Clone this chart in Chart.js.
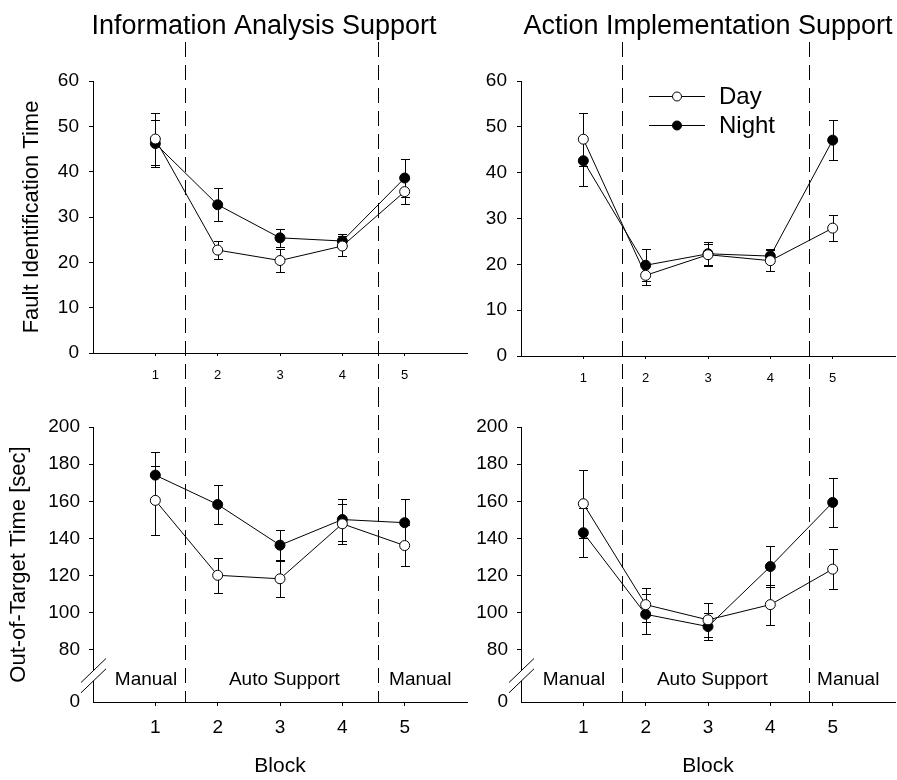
<!DOCTYPE html>
<html>
<head>
<meta charset="utf-8">
<script src="https://cdn.jsdelivr.net/npm/chart.js@4.4.1/dist/chart.umd.min.js"></script>
<style>
  body { margin: 0; width: 897px; height: 780px; overflow: hidden; background: #fff; position: relative; }
  canvas { position: absolute; }
</style>
</head>
<body>
<canvas id="infoFit" width="473" height="392" style="left:0px;top:0px"></canvas>
<canvas id="actFit" width="461" height="392" style="left:440px;top:0px"></canvas>
<canvas id="infoOot" width="473" height="388" style="left:0px;top:392px"></canvas>
<canvas id="actOot" width="461" height="388" style="left:440px;top:392px"></canvas>
<script>
// x axis = block number
const blocks = [1, 2, 3, 4, 5];
const fitTicks = [0, 10, 20, 30, 40, 50, 60];
const ootTicks = [80, 100, 120, 140, 160, 180, 200];
const ootBreakLabel = '0';   // label shown under the axis break
const seriesNames = ['Day', 'Night'];
const panelTitles = ['Information Analysis Support', 'Action Implementation Support'];
const phaseNames = ['Manual', 'Auto Support', 'Manual'];
const phaseMid = [0.85, 3.07, 5.25];
const infoSwitch = [1.48, 4.57];   // manual -> auto -> manual
const actSwitch = [1.62, 4.62];

// Fault identification time (mean, error)
const infoFitDay = [47.2, 22.7, 20.4, 23.6, 35.6];
const infoFitDayErr = [5.8, 2.0, 2.6, 2.2, 2.8];
const infoFitNight = [46.2, 32.7, 25.4, 24.7, 38.6];
const infoFitNightErr = [5.2, 3.6, 2.0, 1.5, 4.2];

const actFitDay = [47.3, 17.6, 22.1, 20.8, 27.9];
const actFitDayErr = [5.8, 2.0, 2.4, 2.3, 2.8];
const actFitNight = [42.6, 19.8, 22.3, 21.8, 47.1];
const actFitNightErr = [5.4, 3.5, 2.5, 1.6, 4.3];

// Out-of-target time [sec]
const infoOotDay = [160.5, 120.2, 118.3, 147.9, 136.2];
const infoOotDayErr = [18.6, 9.4, 9.6, 10.7, 10.8];
const infoOotNight = [174.1, 158.3, 136.4, 150.2, 148.5];
const infoOotNightErr = [12.3, 10.6, 7.9, 11.3, 12.6];

const actOotDay = [158.7, 104.4, 96.2, 104.4, 123.5];
const actOotDayErr = [18.3, 9.2, 9.0, 10.7, 10.9];
const actOotNight = [143.1, 99.2, 92.6, 124.9, 159.4];
const actOotNightErr = [13.3, 10.8, 7.5, 11.0, 13.3];

const family = "'Liberation Sans', Arial, sans-serif";

function series(label, vals, errs, fill) {
  return {
    label: label,
    data: blocks.map((b, i) => ({ x: b, y: vals[i] })),
    err: errs,
    borderColor: '#000', borderWidth: 1, tension: 0, fill: false,
    pointRadius: 5, pointBorderWidth: 1,
    pointBackgroundColor: fill, pointBorderColor: '#000'
  };
}

// dashed phase lines, error bars, texts, axis break
const deco = {
  id: 'deco',
  beforeDatasetsDraw(chart, args, o) {
    const ctx = chart.ctx, a = chart.chartArea, x = chart.scales.x, y = chart.scales.y;
    ctx.save();
    ctx.strokeStyle = '#000';
    ctx.lineWidth = 1;
    ctx.setLineDash([15, 8]);
    o.switches.forEach(v => {
      const px = Math.round(x.getPixelForValue(v)) + 0.5;
      ctx.beginPath();
      ctx.moveTo(px, o.top ? 42 : 0);
      ctx.lineTo(px, o.top ? chart.height : a.bottom);
      ctx.stroke();
    });
    ctx.setLineDash([]);
    chart.data.datasets.forEach(ds => {
      ds.data.forEach((p, i) => {
        const px = Math.round(x.getPixelForValue(p.x)) + 0.5;
        const hi = Math.round(y.getPixelForValue(p.y + ds.err[i])) + 0.5;
        const lo = Math.round(y.getPixelForValue(p.y - ds.err[i])) + 0.5;
        ctx.beginPath();
        ctx.moveTo(px, hi); ctx.lineTo(px, lo);
        ctx.moveTo(px - 4.5, hi); ctx.lineTo(px + 4.5, hi);
        ctx.moveTo(px - 4.5, lo); ctx.lineTo(px + 4.5, lo);
        ctx.stroke();
      });
    });
    ctx.restore();
  },
  afterDatasetsDraw(chart, args, o) {
    const ctx = chart.ctx, a = chart.chartArea, x = chart.scales.x;
    ctx.save();
    ctx.fillStyle = '#000';
    ctx.strokeStyle = '#000';
    ctx.lineWidth = 1;
    if (o.title) {
      ctx.font = '27px ' + family;
      ctx.textAlign = 'center';
      ctx.textBaseline = 'alphabetic';
      ctx.fillText(o.title, o.titleX, 34);
    }
    if (o.legend) {
      const ds = chart.data.datasets;
      [96, 125].forEach((ly, k) => {
        ctx.beginPath();
        ctx.moveTo(209, ly + 0.5); ctx.lineTo(265, ly + 0.5);
        ctx.stroke();
        ctx.beginPath();
        ctx.arc(237, ly + 0.5, 4.5, 0, Math.PI * 2);
        ctx.fillStyle = ds[k].pointBackgroundColor;
        ctx.fill();
        ctx.stroke();
        ctx.fillStyle = '#000';
        ctx.font = '24px ' + family;
        ctx.textAlign = 'left';
        ctx.textBaseline = 'middle';
        ctx.fillText(seriesNames[k], 279, ly + 1);
      });
    }
    if (o.phases) {
      ctx.font = '19px ' + family;
      ctx.textAlign = 'center';
      ctx.textBaseline = 'middle';
      phaseNames.forEach((t, i) => ctx.fillText(t, x.getPixelForValue(phaseMid[i]), a.bottom - 22));
    }
    if (o.broken) {
      const ax = a.left + 0.5;
      const c1 = a.bottom - 31.5, c2 = a.bottom - 21.2;
      ctx.fillStyle = '#fff';
      ctx.beginPath();
      ctx.moveTo(ax - 12.5, c1 + 12); ctx.lineTo(ax + 12.5, c1 - 12);
      ctx.lineTo(ax + 12.5, c2 - 12); ctx.lineTo(ax - 12.5, c2 + 12);
      ctx.closePath();
      ctx.fill();
      ctx.beginPath();
      ctx.moveTo(ax - 12.5, c1 + 12); ctx.lineTo(ax + 12.5, c1 - 12);
      ctx.moveTo(ax - 12.5, c2 + 12); ctx.lineTo(ax + 12.5, c2 - 12);
      ctx.stroke();
    }
    ctx.restore();
  }
};

function makeChart(id, day, dayErr, night, nightErr, cfg) {
  const top = cfg.top;
  const yScale = top ? {
    min: fitTicks[0], max: fitTicks[fitTicks.length - 1],
    afterBuildTicks: s => { s.ticks = fitTicks.map(v => ({ value: v })); },
    grid: { drawOnChartArea: false, tickLength: 4, color: '#000' }
  } : {
    min: 52, max: ootTicks[ootTicks.length - 1],
    afterBuildTicks: s => { s.ticks = [{ value: s.min }].concat(ootTicks.map(v => ({ value: v }))); },
    grid: {
      drawOnChartArea: false, tickLength: 4,
      color: c => (c.tick && c.tick.value < ootTicks[0]) ? 'rgba(0,0,0,0)' : '#000'
    }
  };
  Object.assign(yScale, {
    afterFit: s => { s.width = cfg.yw; },
    border: { color: '#000', width: 1 },
    ticks: {
      color: '#000', padding: top ? 10 : 9, font: { family: family, size: 19 },
      callback: v => (!top && v < ootTicks[0]) ? ootBreakLabel : v
    },
    title: {
      display: !!cfg.yTitle, text: cfg.yTitle || '', color: '#000',
      font: { family: family, size: 22 }, padding: { top: cfg.yTitlePad || 0, bottom: 0 }
    }
  });

  return new Chart(document.getElementById(id), {
    type: 'line',
    data: {
      datasets: [
        series(seriesNames[0], day, dayErr, '#fff'),
        series(seriesNames[1], night, nightErr, '#000')
      ]
    },
    options: {
      responsive: false,
      animation: false,
      layout: { padding: { top: cfg.padTop, right: 0, bottom: 0, left: 0 } },
      plugins: {
        legend: { display: false },
        tooltip: { enabled: false },
        deco: cfg.deco
      },
      scales: {
        x: {
          type: 'linear', min: 0, max: 6,
          afterBuildTicks: s => { s.ticks = blocks.map(v => ({ value: v })); },
          afterFit: s => { s.height = cfg.xh; },
          grid: { drawOnChartArea: false, tickLength: top ? 3 : 4, color: '#000' },
          border: { color: '#000', width: 1 },
          ticks: {
            color: '#000', maxRotation: 0, autoSkip: false,
            padding: top ? 12 : 10, font: { family: family, size: top ? 13 : 19 }
          },
          title: {
            display: !top, text: 'Block', color: '#000',
            font: { family: family, size: 21 }, padding: { top: 0, bottom: 1 }
          }
        },
        y: yScale
      }
    },
    plugins: [deco]
  });
}

makeChart('infoFit', infoFitDay, infoFitDayErr, infoFitNight, infoFitNightErr, {
  top: true, yw: 93, xh: 39, padTop: 81, yTitle: 'Fault Identification Time', yTitlePad: 19,
  deco: { top: true, switches: infoSwitch, title: panelTitles[0], titleX: 264 }
});
makeChart('actFit', actFitDay, actFitDayErr, actFitNight, actFitNightErr, {
  top: true, yw: 81, xh: 36, padTop: 81,
  deco: { top: true, switches: actSwitch, title: panelTitles[1], titleX: 268, legend: true }
});
makeChart('infoOot', infoOotDay, infoOotDayErr, infoOotNight, infoOotNightErr, {
  top: false, yw: 93, xh: 78, padTop: 35, yTitle: 'Out-of-Target Time [sec]', yTitlePad: 6,
  deco: { top: false, switches: infoSwitch, phases: true, broken: true }
});
makeChart('actOot', actOotDay, actOotDayErr, actOotNight, actOotNightErr, {
  top: false, yw: 81, xh: 78, padTop: 35,
  deco: { top: false, switches: actSwitch, phases: true, broken: true }
});
</script>
</body>
</html>
